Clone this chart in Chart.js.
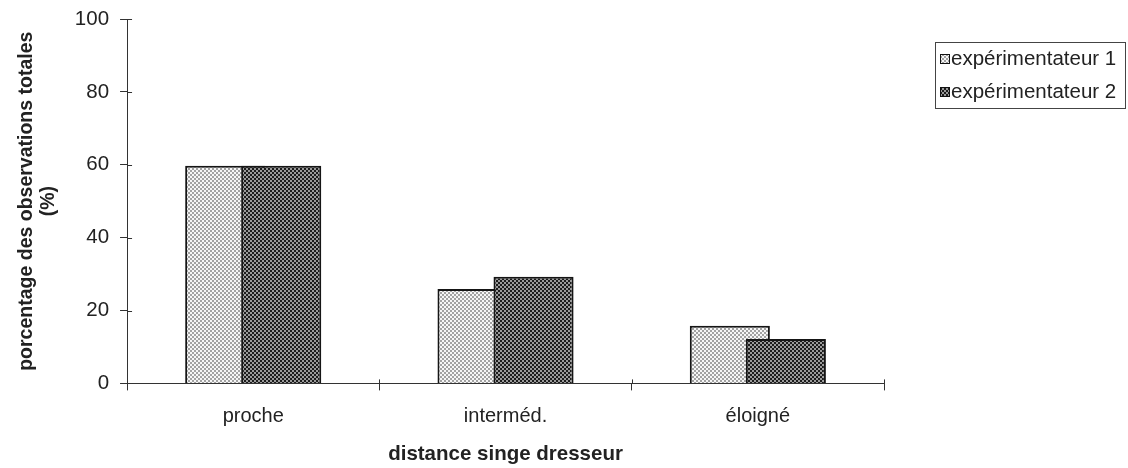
<!DOCTYPE html>
<html>
<head>
<meta charset="utf-8">
<script src="https://cdn.jsdelivr.net/npm/chart.js@4.4.1/dist/chart.umd.min.js"></script>
<style>
  html, body { margin: 0; padding: 0; background: #ffffff; }
  #wrap { width: 1128px; height: 468px; }
</style>
</head>
<body>
<div id="wrap"><canvas id="c" width="1128" height="468"></canvas></div>
<script>
// Categories and series
const categories = ['proche', 'interméd.', 'éloigné'];
const seriesNames = ['expérimentateur 1', 'expérimentateur 2'];
const exp1 = [59.7, 25.9, 15.8];
const exp2 = [59.7, 29.3, 12.2];
const yTicks = [0, 20, 40, 60, 80, 100];

const FONT = "'Liberation Sans', Arial, sans-serif";
const INK = '#222222';

// Halftone-like fills for the two series
function makePattern(bg, fg) {
  const t = document.createElement('canvas');
  t.width = 4; t.height = 4;
  const g = t.getContext('2d');
  g.fillStyle = bg; g.fillRect(0, 0, 4, 4);
  g.fillStyle = fg;
  g.fillRect(0, 0, 2, 2);
  g.fillRect(2, 2, 2, 2);
  return g.createPattern(t, 'repeat');
}
const ctx = document.getElementById('c').getContext('2d');
const fillLight = makePattern('#f6f6f6', '#a2a2a2');
const fillDark = makePattern('#9a9a9a', '#1c1c1c');

// Draw datasets in index order so the second series sits over the first
const drawOrder = {
  id: 'drawOrder',
  beforeDatasetsDraw(chart) {
    chart.getSortedVisibleDatasetMetas().forEach(m => m.controller.draw());
    return false;
  }
};

// Short tick marks reaching into the plot area, plus the boxed legend
const axisExtras = {
  id: 'axisExtras',
  afterDraw(chart) {
    const c = chart.ctx;
    const xs = chart.scales.x, ys = chart.scales.y;
    c.save();
    c.strokeStyle = '#333333';
    c.lineWidth = 1;
    yTicks.forEach(v => {
      const py = Math.round(ys.getPixelForValue(v)) + 0.5;
      c.beginPath(); c.moveTo(xs.left, py); c.lineTo(xs.left + 5, py); c.stroke();
    });
    for (let i = 0; i <= categories.length; i++) {
      const px = Math.round(xs.getPixelForValue(i - 0.5)) + 0.5;
      c.beginPath(); c.moveTo(px, ys.bottom); c.lineTo(px, ys.bottom - 4); c.stroke();
    }

    // legend
    const lx = 935, ly = 42, lw = 190, rowH = 33;
    const fills = [fillLight, fillDark];
    c.font = '20.5px ' + FONT;
    c.textBaseline = 'middle';
    c.textAlign = 'left';
    c.strokeStyle = '#444444';
    c.strokeRect(lx + 0.5, ly + 0.5, lw, rowH * 2);
    seriesNames.forEach((name, i) => {
      const cy = ly + rowH * i + rowH / 2 + 0.5;
      c.fillStyle = fills[i];
      c.fillRect(lx + 5, cy - 5, 10, 10);
      c.strokeStyle = '#111111';
      c.strokeRect(lx + 5.5, cy - 4.5, 9, 9);
      c.fillStyle = INK;
      c.fillText(name, lx + 16, cy);
    });
    c.restore();
  }
};

new Chart(ctx, {
  type: 'bar',
  data: {
    labels: categories,
    datasets: [
      { label: seriesNames[0], data: exp1, backgroundColor: fillLight, borderColor: '#151515', borderWidth: 2 },
      { label: seriesNames[1], data: exp2, backgroundColor: fillDark, borderColor: '#151515', borderWidth: 2 }
    ]
  },
  options: {
    responsive: false,
    animation: false,
    devicePixelRatio: 1,
    categoryPercentage: 0.444,
    barPercentage: 1.43,
    layout: { padding: { left: 15, right: 244, top: 19, bottom: 1 } },
    plugins: {
      legend: { display: false },
      tooltip: { enabled: false }
    },
    scales: {
      x: {
        grid: { display: true, drawOnChartArea: false, offset: true, tickLength: 7, color: '#333333' },
        border: { display: true, color: '#333333', width: 1 },
        ticks: { color: INK, font: { family: FONT, size: 20 }, padding: 14 },
        title: {
          display: true, text: 'distance singe dresseur', color: INK,
          font: { family: FONT, size: 20.5, weight: 'bold' }, padding: { top: 0, bottom: 0 }
        }
      },
      y: {
        min: 0, max: 100,
        afterBuildTicks(scale) { scale.ticks = yTicks.map(v => ({ value: v })); },
        afterFit(scale) { scale.paddingTop = 0; },
        grid: { display: true, drawOnChartArea: false, tickLength: 7, color: '#333333' },
        border: { display: true, color: '#333333', width: 1 },
        ticks: { color: INK, font: { family: FONT, size: 20.5 }, padding: 11 },
        title: {
          display: true, text: ['porcentage des observations totales', '(%)'], color: INK,
          font: { family: FONT, size: 19.5, weight: 'bold', lineHeight: 1.15 }, padding: { top: 0, bottom: 4 }
        }
      }
    }
  },
  plugins: [drawOrder, axisExtras]
});
</script>
</body>
</html>
